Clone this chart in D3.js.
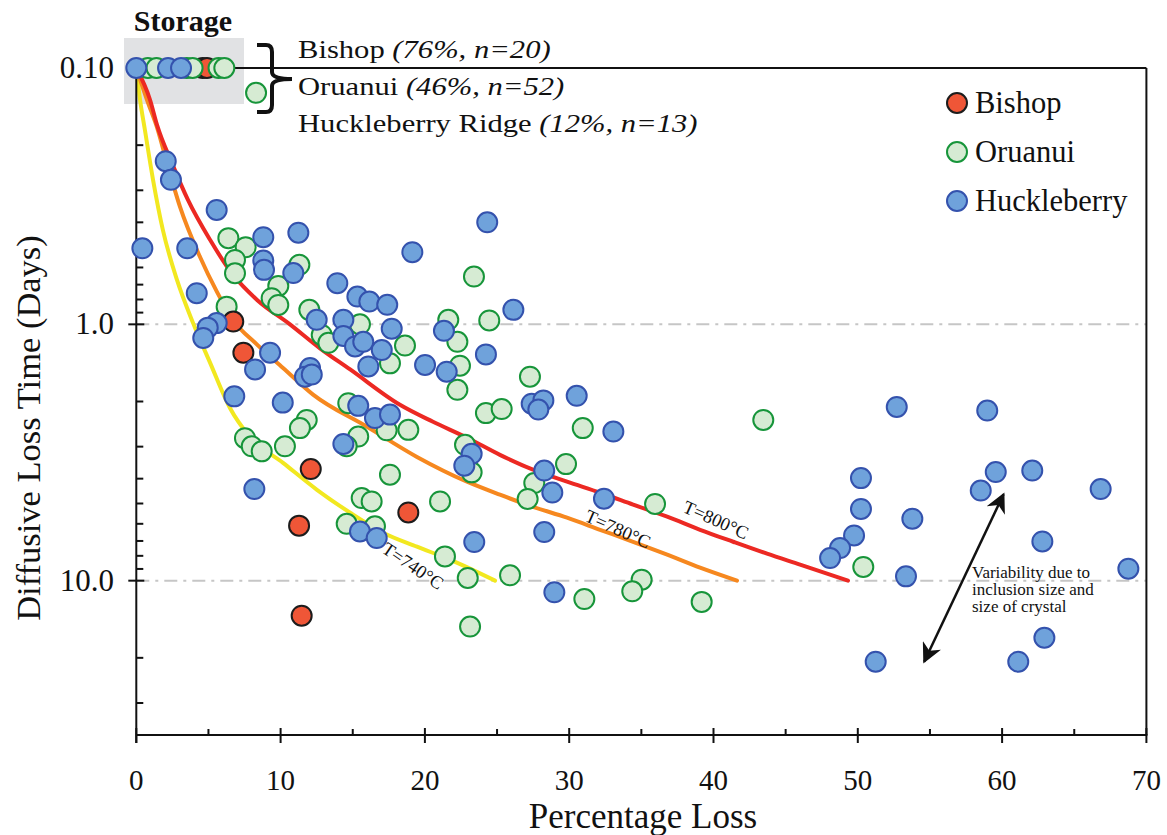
<!DOCTYPE html>
<html>
<head>
<meta charset="utf-8">
<script src="https://cdn.jsdelivr.net/npm/d3@7"></script>
<style>
  body { margin: 0; background: #fff; }
  svg { display: block; }
  text { font-family: "Liberation Serif", "Times New Roman", Times, serif; fill: #111; }
</style>
</head>
<body>
<svg id="chart" width="1167" height="835"></svg>
<script>
// ---- axis ticks ----
const xTicks = [0, 10, 20, 30, 40, 50, 60, 70];
const xMinorTicks = [5, 15, 25, 35, 45, 55, 65];
const yTicks = [0.1, 1, 10];
const yTickLabels = ["0.10", "1.0", "10.0"];
const yMinorTicks = [0.2, 0.3, 0.4, 0.5, 0.6, 0.7, 0.8, 0.9, 2, 3, 4, 5, 6, 7, 8, 9, 20, 30];

// ---- series: [percentage loss, diffusive loss time (days)] ----
const seriesNames = ["Bishop", "Oruanui", "Huckleberry"];

const bishop = [
  [4.6, 0.1], [4.9, 0.1],
  [6.72, 0.975], [7.42, 1.29], [12.09, 3.67], [11.28, 6.10], [18.85, 5.42], [11.46, 13.7]
];

const oruanui = [
  [0.8, 0.1], [1.4, 0.1], [3.5, 0.1], [3.9, 0.1], [5.7, 0.1], [6.1, 0.1],
  [8.30, 0.125], [6.38, 0.461], [7.58, 0.500], [6.84, 0.561], [6.84, 0.632], [11.30, 0.586],
  [9.84, 0.708], [9.38, 0.791], [9.84, 0.840], [6.26, 0.853], [11.99, 0.878], [15.50, 1.00],
  [12.85, 1.10], [13.31, 1.18], [18.62, 1.21], [17.58, 1.42], [21.62, 0.960], [14.69, 2.03],
  [11.81, 2.36], [11.34, 2.54], [18.85, 2.58], [7.53, 2.78], [8.00, 2.99], [8.69, 3.13],
  [10.30, 2.99], [15.38, 2.74], [14.58, 2.99], [17.35, 2.59], [17.58, 3.86], [15.62, 4.76],
  [16.31, 4.91], [21.05, 4.91], [14.58, 6.00], [16.54, 6.14], [21.39, 8.04], [23.40, 0.651],
  [24.46, 0.966], [22.25, 1.17], [22.43, 1.45], [27.28, 1.60], [22.25, 1.80], [24.23, 2.22],
  [25.32, 2.14], [30.94, 2.54], [43.45, 2.36], [22.78, 2.95], [23.24, 3.78], [29.78, 3.51],
  [27.58, 4.16], [27.12, 4.80], [35.95, 5.02], [22.97, 9.76], [25.90, 9.53], [35.02, 9.91],
  [34.37, 11.0], [31.05, 11.8], [39.18, 12.1], [23.13, 15.1], [50.38, 8.84]
];

const huckleberry = [
  [0, 0.1], [2.2, 0.1], [3.1, 0.1],
  [2.04, 0.231], [2.40, 0.273], [5.57, 0.358], [0.42, 0.505], [3.53, 0.505], [8.80, 0.457],
  [11.23, 0.439], [19.13, 0.523], [4.19, 0.756], [8.80, 0.564], [8.85, 0.613], [10.88, 0.631],
  [13.93, 0.691], [15.32, 0.779], [16.15, 0.815], [17.39, 0.839], [12.50, 0.960], [14.35, 0.960],
  [21.32, 1.06], [5.57, 0.989], [4.95, 1.03], [4.64, 1.13], [14.35, 1.11], [15.16, 1.22],
  [15.73, 1.17], [17.70, 1.04], [17.01, 1.26], [20.01, 1.44], [21.51, 1.53], [9.27, 1.29],
  [8.23, 1.50], [12.04, 1.48], [11.69, 1.60], [12.16, 1.57], [16.08, 1.46], [6.79, 1.91],
  [10.15, 2.02], [15.38, 2.08], [16.54, 2.32], [17.58, 2.25], [14.35, 2.93], [8.18, 4.39],
  [15.50, 6.43], [16.66, 6.82], [24.32, 0.400], [26.13, 0.878], [24.23, 1.31], [30.52, 1.90],
  [27.40, 2.04], [28.21, 1.98], [27.86, 2.15], [33.06, 2.62], [23.24, 3.20], [22.73, 3.56],
  [28.27, 3.72], [28.83, 4.53], [32.41, 4.79], [28.27, 6.46], [23.42, 7.07], [28.97, 11.1],
  [52.70, 2.10], [58.97, 2.17], [50.22, 3.98], [59.56, 3.77], [62.09, 3.72], [58.52, 4.45],
  [66.83, 4.39], [50.22, 5.25], [53.78, 5.73], [49.74, 6.66], [48.77, 7.46], [48.08, 8.16],
  [62.79, 7.03], [53.34, 9.62], [68.75, 8.98], [62.93, 16.7], [51.24, 20.7], [61.12, 20.7]
];

// ---- modelled diffusive loss at three temperatures ----
const curve740 = [
  [0, 0.1], [0.26, 0.133], [0.60, 0.175], [1.16, 0.273], [1.84, 0.428], [2.82, 0.671],
  [3.93, 0.987], [5.11, 1.41], [6.49, 2.12], [7.88, 2.75], [10.17, 3.47], [12.52, 4.42],
  [14.82, 5.43], [17.10, 6.50], [19.45, 7.37], [21.74, 8.28], [24.86, 10]
];
const curve780 = [
  [0, 0.1], [0.74, 0.133], [1.50, 0.175], [2.13, 0.235], [3.03, 0.348], [4.41, 0.545],
  [5.59, 0.747], [6.70, 0.960], [8.37, 1.20], [10.17, 1.48], [12.25, 1.88], [15.99, 2.51],
  [19.45, 3.29], [22.92, 4.11], [25.20, 4.62], [27.49, 5.15], [29.85, 5.68], [32.14, 6.33],
  [34.43, 7.05], [36.79, 7.92], [39.07, 8.90], [41.63, 10]
];
const curve800 = [
  [0, 0.1], [0.95, 0.133], [1.44, 0.167], [2.47, 0.235], [3.58, 0.327], [5.11, 0.468],
  [6.70, 0.641], [8.37, 0.803], [10.65, 1.00], [12.73, 1.24], [14.82, 1.50], [18.27, 2.06],
  [20.56, 2.40], [22.92, 2.77], [25.20, 3.23], [27.49, 3.69], [29.85, 4.11], [32.14, 4.54],
  [34.43, 5.05], [36.79, 5.63], [39.07, 6.33], [41.36, 7.05], [43.71, 7.85], [46.00, 8.66],
  [49.32, 10]
];
const curveLabels = ["T=740\u00B0C", "T=780\u00B0C", "T=800\u00B0C"];

// storage summary: name, share and count
const storageNames = ["Bishop", "Oruanui", "Huckleberry Ridge"];
const storageStats = ["(76%, n=20)", "(46%, n=52)", "(12%, n=13)"];

// ---- layout ----
const svg = d3.select("#chart");
const x = d3.scaleLinear().domain([0, 70]).range([136.3, 1146.4]);
const y = d3.scaleLog().domain([0.1, 40]).range([68, 735]);
const X0 = x.range()[0], X1 = x.range()[1], Y0 = y.range()[0], Y1 = y.range()[1];
const serif = "'Liberation Serif', 'Times New Roman', Times, serif";

const styles = {
  Bishop:      { fill: "#ef5637", stroke: "#1c1c1c" },
  Oruanui:     { fill: "#d6ebd3", stroke: "#17953a" },
  Huckleberry: { fill: "#6fa2db", stroke: "#3452ad" }
};

// storage highlight box
svg.append("rect")
  .attr("x", 124).attr("y", 38).attr("width", 120).attr("height", 66)
  .attr("fill", "#e1e2e4");
svg.append("text")
  .attr("x", 183).attr("y", 31).attr("text-anchor", "middle")
  .attr("font-family", serif).attr("font-size", 30).attr("font-weight", "bold")
  .text("Storage");

// dash-dot reference lines at 1 and 10 days
svg.append("g").selectAll("line").data([1, 10]).join("line")
  .attr("x1", X0).attr("x2", X1)
  .attr("y1", d => y(d)).attr("y2", d => y(d))
  .attr("stroke", "#c6c6c6").attr("stroke-width", 2)
  .attr("stroke-dasharray", "13,6,3,6");

// model curves
const line = d3.line().x(d => x(d[0])).y(d => y(d[1])).curve(d3.curveMonotoneX);
const curves = [
  { data: curve740, color: "#f2e820" },
  { data: curve780, color: "#f6881f" },
  { data: curve800, color: "#ec2923" }
];
svg.append("g").selectAll("path").data(curves).join("path")
  .attr("d", d => line(d.data))
  .attr("fill", "none").attr("stroke", d => d.color)
  .attr("stroke-width", 4).attr("stroke-linecap", "round");

// frame and axes
const frame = svg.append("g").attr("stroke", "#111").attr("stroke-width", 2).attr("fill", "none");
frame.append("line").attr("x1", X0).attr("x2", X1).attr("y1", Y0).attr("y2", Y0);
frame.append("line").attr("x1", X1).attr("x2", X1).attr("y1", Y0).attr("y2", Y1);
frame.append("line").attr("x1", X0).attr("x2", X0).attr("y1", Y0).attr("y2", Y1 + 8);
frame.append("line").attr("x1", X0).attr("x2", X1 + 1).attr("y1", Y1).attr("y2", Y1);

// x ticks
frame.selectAll(".xt").data(xTicks).join("line")
  .attr("x1", d => x(d)).attr("x2", d => x(d)).attr("y1", Y1 - 7).attr("y2", Y1 + 8);
frame.selectAll(".xm").data(xMinorTicks).join("line")
  .attr("x1", d => x(d)).attr("x2", d => x(d)).attr("y1", Y1 - 6).attr("y2", Y1);
// y ticks
frame.selectAll(".yt").data(yTicks).join("line")
  .attr("x1", X0 - 8).attr("x2", X0 + 8).attr("y1", d => y(d)).attr("y2", d => y(d));
frame.selectAll(".ym").data(yMinorTicks).join("line")
  .attr("x1", X0).attr("x2", X0 + 7).attr("y1", d => y(d)).attr("y2", d => y(d));

svg.append("g").selectAll("text").data(xTicks).join("text")
  .attr("x", d => x(d)).attr("y", 790).attr("text-anchor", "middle")
  .attr("font-family", serif).attr("font-size", 29).text(d => d);
svg.append("g").selectAll("text").data(yTicks).join("text")
  .attr("x", 114).attr("y", d => y(d) + 10).attr("text-anchor", "end")
  .attr("font-family", serif).attr("font-size", 31).text((d, i) => yTickLabels[i]);

svg.append("text")
  .attr("x", 643).attr("y", 828).attr("text-anchor", "middle")
  .attr("font-family", serif).attr("font-size", 35).text("Percentage Loss");
svg.append("text")
  .attr("transform", "translate(40,428) rotate(-90)")
  .attr("text-anchor", "middle")
  .attr("font-family", serif).attr("font-size", 34.5).text("Diffusive Loss Time (Days)");

// data points: the storage row first, then the rest of each suite
const groups = [
  { name: "Oruanui", data: oruanui },
  { name: "Bishop", data: bishop },
  { name: "Huckleberry", data: huckleberry }
];
const isStored = d => d[1] === 0.1;
const drawPoints = (name, pts) => {
  svg.append("g").selectAll("circle").data(pts).join("circle")
    .attr("cx", d => x(d[0])).attr("cy", d => y(d[1])).attr("r", 10)
    .attr("fill", styles[name].fill)
    .attr("stroke", styles[name].stroke)
    .attr("stroke-width", 2);
};
["Bishop", "Oruanui", "Huckleberry"].forEach(n => {
  drawPoints(n, groups.find(g => g.name === n).data.filter(isStored));
});
groups.forEach(g => drawPoints(g.name, g.data.filter(d => !isStored(d))));

// curve labels, set along each curve
const labelPos = [
  { at: [19.18, 8.74], angle: 34 },
  { at: [33.38, 6.27], angle: 24 },
  { at: [40.18, 5.78], angle: 24 }
];
svg.append("g").selectAll("text").data(labelPos).join("text")
  .attr("transform", d => `translate(${x(d.at[0])},${y(d.at[1])}) rotate(${d.angle})`)
  .attr("text-anchor", "middle").attr("dy", "0.35em")
  .attr("font-family", serif).attr("font-size", 18.5)
  .text((d, i) => curveLabels[i]);

// legend
const legend = svg.append("g").attr("transform", "translate(957,103)");
legend.selectAll("circle").data(seriesNames).join("circle")
  .attr("cx", 0).attr("cy", (d, i) => i * 49).attr("r", 10)
  .attr("fill", d => styles[d].fill).attr("stroke", d => styles[d].stroke).attr("stroke-width", 2);
legend.selectAll("text").data(seriesNames).join("text")
  .attr("x", 18).attr("y", (d, i) => i * 49 + 10)
  .attr("font-family", serif).attr("font-size", 30.5).text(d => d);

// brace and storage summary
svg.append("path")
  .attr("d", "M257,45 L266,45 Q272,45 272,52 L272,72 Q272,79 292,79 Q272,79 272,86 L272,105 Q272,112 266,112 L257,112")
  .attr("fill", "none").attr("stroke", "#111").attr("stroke-width", 4);
const notes = svg.append("g").attr("transform", "translate(298,0) scale(1.2,1)");
storageNames.forEach((n, i) => {
  const t = notes.append("text").attr("x", 0).attr("y", 58 + i * 37)
    .attr("font-family", serif).attr("font-size", 25.5);
  t.append("tspan").text(n + " ");
  t.append("tspan").attr("font-style", "italic").text(storageStats[i]);
});

// variability annotation
const defs = svg.append("defs");
defs.append("marker").attr("id", "head")
  .attr("viewBox", "0 0 10 10").attr("refX", 9).attr("refY", 5)
  .attr("markerWidth", 8.5).attr("markerHeight", 8).attr("orient", "auto-start-reverse")
  .attr("markerUnits", "strokeWidth")
  .append("path").attr("d", "M0,0 L10,5 L0,10 L3,5 Z").attr("fill", "#111");
svg.append("line")
  .attr("x1", x(54.6)).attr("y1", y(20.7)).attr("x2", x(60.1)).attr("y2", y(4.6))
  .attr("stroke", "#111").attr("stroke-width", 2.5)
  .attr("marker-start", "url(#head)").attr("marker-end", "url(#head)");
const vt = svg.append("text").attr("x", 972).attr("y", 578)
  .attr("font-family", serif).attr("font-size", 17);
["Variability due to", "inclusion size and", "size of crystal"].forEach((s, i) => {
  vt.append("tspan").attr("x", 972).attr("dy", i === 0 ? 0 : 17).text(s);
});
</script>
</body>
</html>
